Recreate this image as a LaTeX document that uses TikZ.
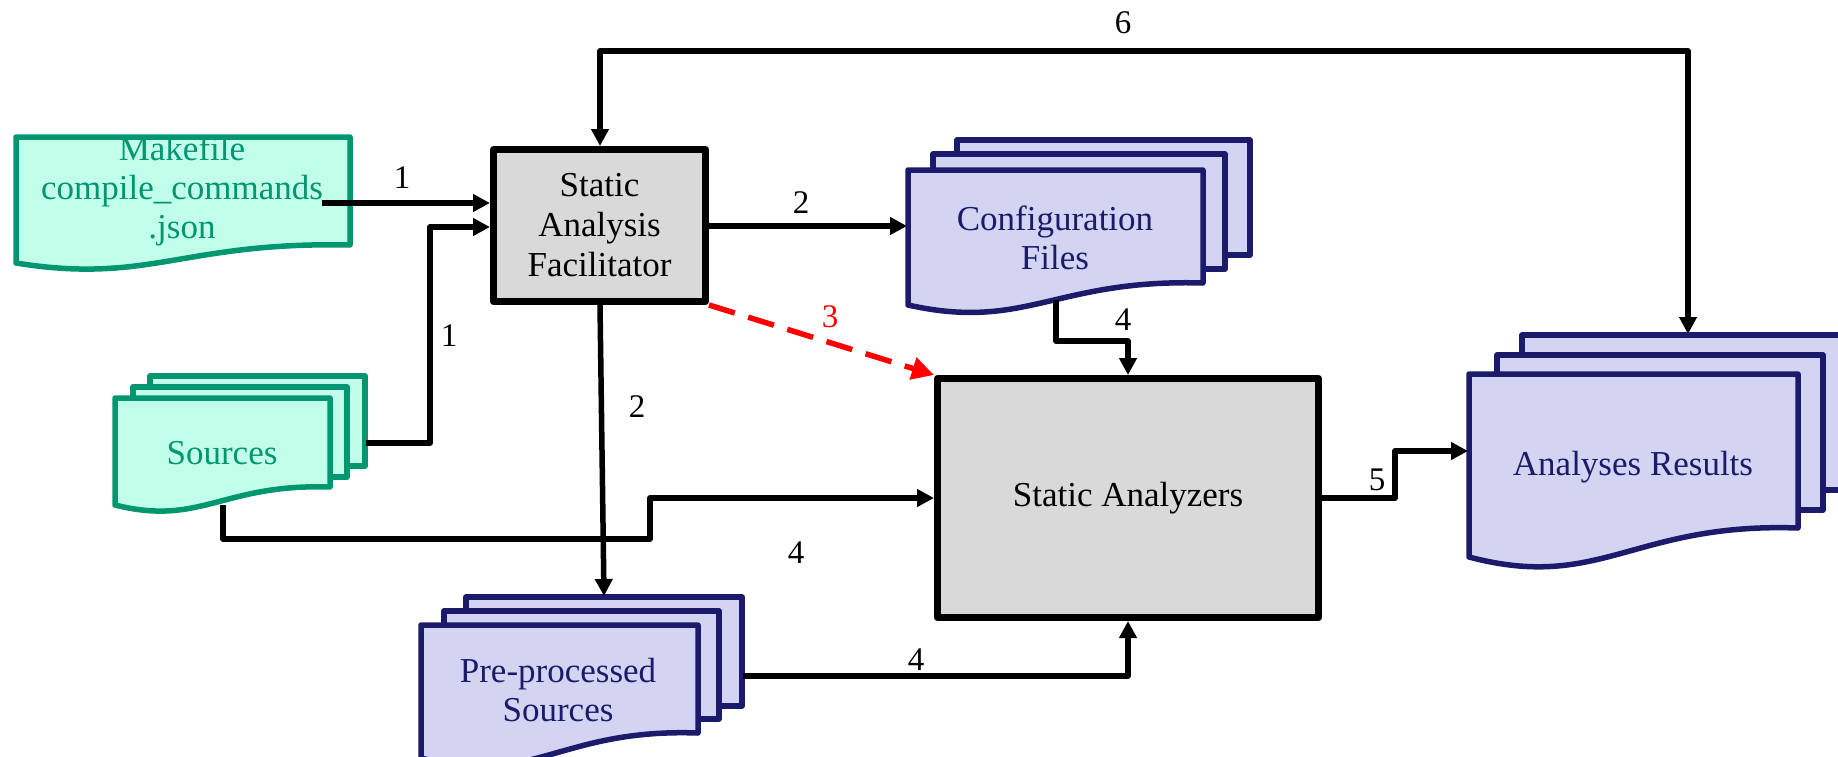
\documentclass[tikz,border=0pt]{standalone}
\usepackage{fontspec}
\setmainfont{Liberation Serif}
\usetikzlibrary{arrows.meta,calc}

\definecolor{srcline}{RGB}{0,150,112}
\definecolor{srcfill}{RGB}{194,255,235}
\definecolor{docline}{RGB}{28,26,106}
\definecolor{docfill}{RGB}{210,212,242}
\definecolor{boxfill}{RGB}{217,217,217}

% a sheet with a wavy lower edge: style, x0, y0, x1, y(right bottom), y(left bottom)
\newcommand\wavysheet[6]{%
  \path[#1] (#2,#3) -- (#4,#3) -- (#4,#5)
    .. controls ({#2+0.5*(#4-#2)},{#5-0.2*(#6-#5)}) and ({#2+0.4*(#4-#2)},{#6+1.2*(#6-#5)}) .. (#2,#6) -- cycle;}
% a plain sheet lying behind another one
\newcommand\flatsheet[5]{%
  \path[#1] (#2,#3) rectangle (#4,#5);}

\tikzset{
  srcsheet/.style={draw=srcline,fill=srcfill,line width=5.5pt,line join=round},
  docsheet/.style={draw=docline,fill=docfill,line width=5.5pt,line join=round},
  procbox/.style={draw=black,fill=boxfill,line width=7pt,line join=round,inner sep=0pt,align=center,
    font=\fontsize{35}{40}\selectfont},
  srctext/.style={text=srcline,align=center,font=\fontsize{35}{39}\selectfont},
  doctext/.style={text=docline,align=center,font=\fontsize{35}{39}\selectfont},
  tip/.tip={Triangle[length=17pt,width=17pt]},
  flow/.style={draw=black,line width=5.5pt,line join=round,-tip},
  twoway/.style={draw=black,line width=5.5pt,line join=round,tip-tip},
  redflow/.style={draw=red,line width=5.5pt,dash pattern=on 27pt off 14pt,
    -{Triangle[length=22pt,width=22pt]}},
  num/.style={font=\fontsize{33}{39}\selectfont,inner sep=0pt},
}

\begin{document}
\begin{tikzpicture}[x=1pt,y=-1pt]
\useasboundingbox (0,0) rectangle (1838,756);
\clip (0,0) rectangle (1838,756);

% ---------- inputs ----------
\wavysheet{srcsheet}{16}{137}{350}{245}{263}
\node[srctext] (mk) at (182,191) {Makefile\\compile\_commands\\.json};

\flatsheet{srcsheet}{150}{376}{365}{466}
\flatsheet{srcsheet}{133}{387}{347}{477}
\wavysheet{srcsheet}{115}{398}{330}{487}{505}
\node[srctext] (src) at (222,453) {Sources};

% ---------- facilitator ----------
\node[procbox,minimum width=212pt,minimum height=152pt] (saf) at (599.5,225.5)
  {Static\\Analysis\\Facilitator};

% ---------- configuration files ----------
\flatsheet{docsheet}{957}{140}{1250}{255}
\flatsheet{docsheet}{933}{154}{1225}{269}
\wavysheet{docsheet}{908}{170}{1203}{283}{305}
\node[doctext] (cfg) at (1055,238) {Configuration\\Files};

% ---------- pre-processed sources ----------
\flatsheet{docsheet}{466}{597}{742}{706}
\flatsheet{docsheet}{444}{611}{719}{719}
\wavysheet{docsheet}{421}{625}{698}{733}{758}
\node[doctext] (pre) at (558,690) {Pre-processed\\Sources};

% ---------- analyzers ----------
\node[procbox,minimum width=381pt,minimum height=239pt] (sa) at (1128,498)
  {Static Analyzers};

% ---------- results ----------
\flatsheet{docsheet}{1522}{335}{1850}{490}
\flatsheet{docsheet}{1497}{355}{1823}{510}
\wavysheet{docsheet}{1469}{374}{1798}{528}{557}
\node[doctext] (res) at (1633,467) {Analyses Results};

% ---------- connector end points on the sheets ----------
\coordinate (mkout)  at (322,203);
\coordinate (srcout) at (366,443);
\coordinate (srcbot) at (223,505);
\coordinate (cfgin)  at (907,226);
\coordinate (cfgbot) at (1056,300);
\coordinate (prein)  at (604,596);
\coordinate (preout) at (743,676);
\coordinate (resin)  at (1468,451);
\coordinate (restop) at (1688,334);

% ---------- connectors ----------
\draw[flow] (mkout) -- (saf.west |- mkout);
\draw[flow] (srcout) -| (430,300) |- ($(saf.west)+(0,1.5)$);
\draw[flow] (saf.east |- cfgin) -- (cfgin);
\draw[flow] ([xshift=0.5pt]saf.south) -- (prein);
\draw[redflow] (saf.south east) -- (sa.north west);
\draw[flow] (cfgbot) |- (1128,341) -- (sa.north);
\draw[flow] (srcbot) |- (650,539) |- (sa.west);
\draw[flow] (preout) -| (sa.south);
\draw[flow] (sa.east) -| (1395,475) |- (resin);
\draw[twoway] (restop) |- (600,51) -- ([xshift=0.5pt]saf.north);

% ---------- step numbers ----------
\node[num] (n1a) at (402,178) {1};
\node[num] (n1b) at (449,336) {1};
\node[num] (n2a) at (801,203) {2};
\node[num] (n2b) at (637,407) {2};
\node[num,text=red] (n3) at (830,317) {3};
\node[num] (n4a) at (1123,320) {4};
\node[num] (n4b) at (796,553) {4};
\node[num] (n4c) at (916,660) {4};
\node[num] (n5) at (1377,480) {5};
\node[num] (n6) at (1123,23) {6};
\end{tikzpicture}
\end{document}
